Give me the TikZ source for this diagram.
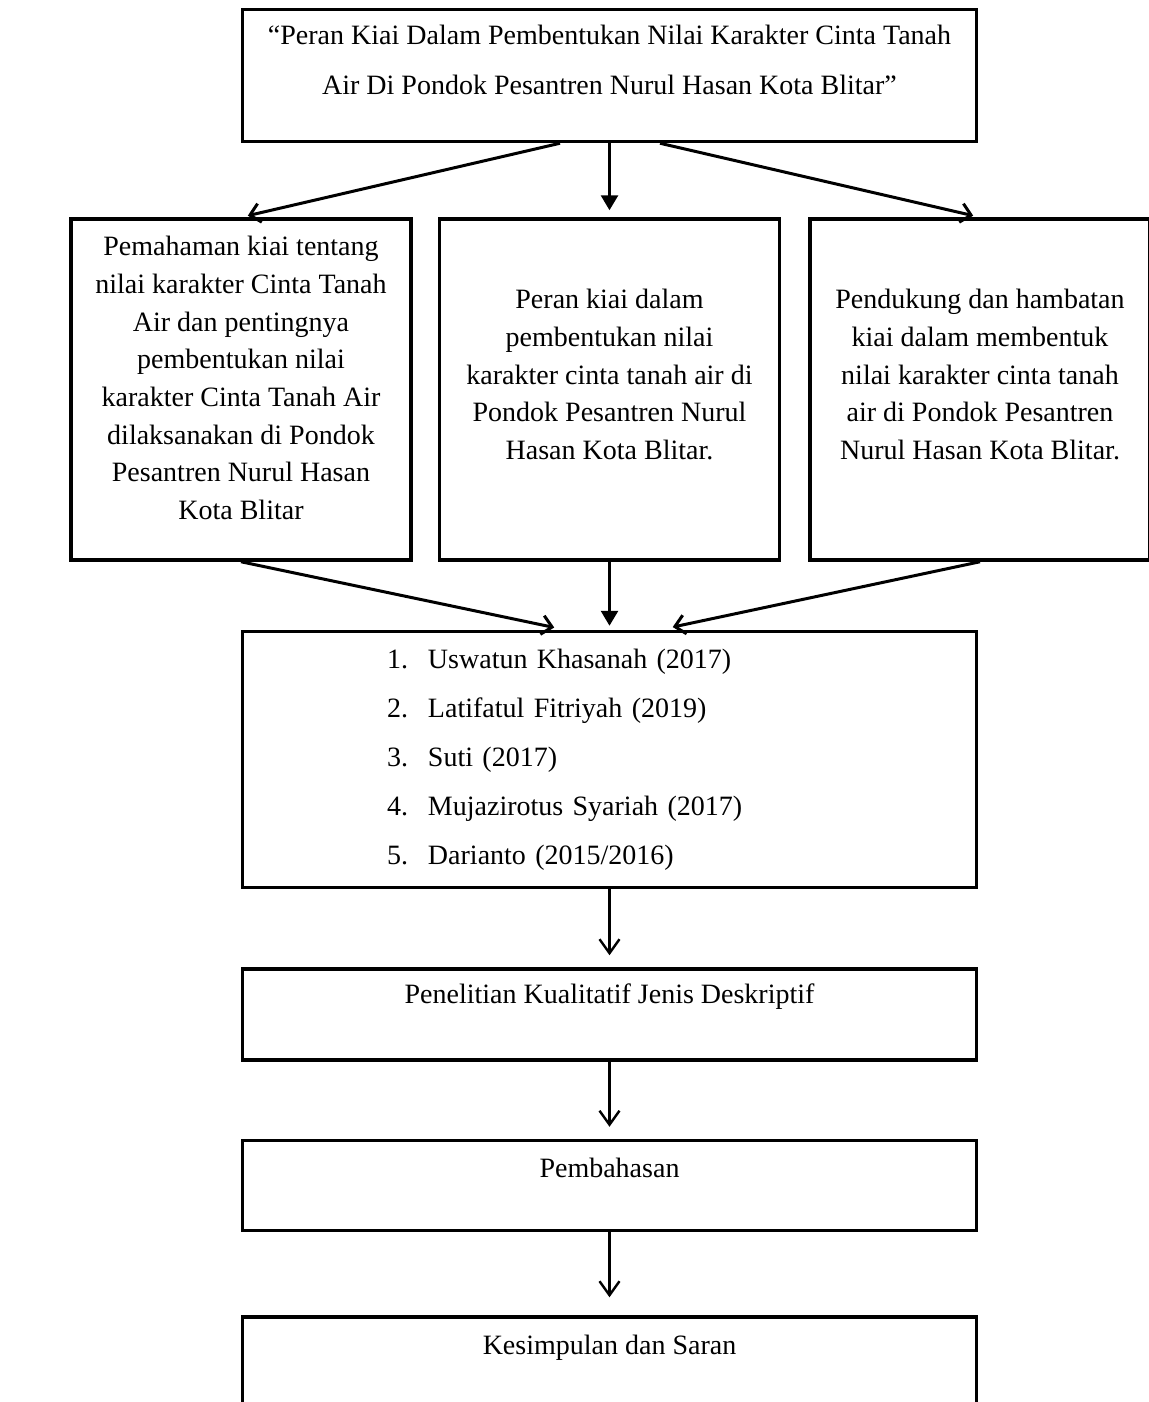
\documentclass[tikz,border=0pt]{standalone}
\usepackage{fontspec}
\setmainfont{Liberation Serif}
\usepackage{tikz}
\usetikzlibrary{arrows.meta,positioning}
\tikzset{
  kbox/.style={draw=black,line width=3.5pt,inner xsep=0pt,inner ysep=0pt,align=center,
               font=\fontsize{28}{37.7}\selectfont},
  ktitle/.style={kbox,minimum width=734pt,font=\fontsize{28}{50}\selectfont},
  kside/.style={kbox,minimum width=340pt},
  klist/.style={kbox,minimum width=734pt,minimum height=256pt,text width=445pt,align=left,
                font=\fontsize{28}{49}\selectfont},
  kstage/.style={kbox,minimum width=734pt},
  kfan/.style={-{Straight Barb[length=10pt,width=19pt]},line width=3pt},
  kflow/.style={-{Triangle[length=15pt,width=17pt]},line width=2.8pt},
  kstep/.style={-{Straight Barb[length=14pt,width=20pt]},line width=2.4pt},
}
\begin{document}
\begin{tikzpicture}[x=1pt,y=1pt]
  \useasboundingbox (0,0) rectangle (1148,-1402);

  \node[ktitle,text height=85.5pt,text depth=46.5pt] at (609.5,-75.5) (title)
    {“Peran Kiai Dalam Pembentukan Nilai Karakter Cinta Tanah\\Air Di Pondok Pesantren Nurul Hasan Kota Blitar”};

  \node[kside,text height=240.5pt,text depth=100.5pt,below=74pt of title] (mbox)
    {Peran kiai dalam\\pembentukan nilai\\karakter cinta tanah air di\\Pondok Pesantren Nurul\\Hasan Kota Blitar.};
  \node[kside,text height=300.5pt,text depth=40.5pt,left=25pt of mbox] (lbox)
    {Pemahaman kiai tentang\\nilai karakter Cinta Tanah\\Air dan pentingnya\\pembentukan nilai\\karakter Cinta Tanah Air\\dilaksanakan di Pondok\\Pesantren Nurul Hasan\\Kota Blitar};
  \node[kside,text height=240.5pt,text depth=100.5pt,right=27pt of mbox] (rbox)
    {Pendukung dan hambatan\\kiai dalam membentuk\\nilai karakter cinta tanah\\air di Pondok Pesantren\\Nurul Hasan Kota Blitar.};

  \node[klist,below=68pt of mbox] (prior)
    {\makebox[41pt][l]{1.}Uswatun Khasanah (2017)\\
     \makebox[41pt][l]{2.}Latifatul Fitriyah (2019)\\
     \makebox[41pt][l]{3.}Suti (2017)\\
     \makebox[41pt][l]{4.}Mujazirotus Syariah (2017)\\
     \makebox[41pt][l]{5.}Darianto (2015/2016)};

  \node[kstage,text height=34.5pt,text depth=56.5pt,below=78pt of prior] (method) {Penelitian Kualitatif Jenis Deskriptif};
  \node[kstage,text height=36.5pt,text depth=53.5pt,below=77pt of method] (discuss) {Pembahasan};
  \node[kstage,text height=37.5pt,text depth=80pt,below=83pt of discuss] (concl) {Kesimpulan dan Saran};

  % focus -> three questions
  \draw[kfan,shorten >=7pt] ([xshift=-49.5pt]title.south) -- (lbox.north);
  \draw[kflow,shorten >=7pt] (title.south) -- (mbox.north);
  \draw[kfan,shorten >=7pt] ([xshift=50.5pt]title.south) -- (rbox.north);

  % three questions -> prior studies
  \draw[kfan,shorten >=11pt] (lbox.south) -- ([xshift=-44.5pt]prior.north);
  \draw[kflow,shorten >=4pt] (mbox.south) -- (prior.north);
  \draw[kfan,shorten >=13pt] (rbox.south) -- ([xshift=50.5pt]prior.north);

  \foreach \a/\b/\s in {prior/method/12pt,method/discuss/12pt,discuss/concl/18pt}{\draw[kstep,shorten >=\s] (\a)--(\b);}
\end{tikzpicture}
\end{document}
